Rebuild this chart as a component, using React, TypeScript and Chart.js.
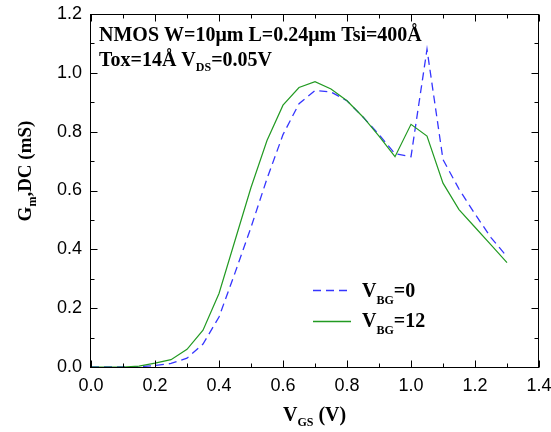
import React, { useEffect, useRef } from "react";
import { Chart, registerables } from "chart.js";

Chart.register(...registerables);

const vgs = [0, 0.05, 0.1, 0.15, 0.2, 0.25, 0.3, 0.35, 0.4, 0.45, 0.5, 0.55, 0.6, 0.65, 0.7, 0.75, 0.8, 0.85, 0.9, 0.95, 1.0, 1.05, 1.1, 1.15, 1.2, 1.25, 1.3];
const gmVbg0 = [0, 0, 0, 0.001, 0.005, 0.012, 0.03, 0.078, 0.17, 0.32, 0.475, 0.64, 0.79, 0.895, 0.94, 0.935, 0.905, 0.85, 0.79, 0.725, 0.715, 1.08, 0.705, 0.605, 0.52, 0.44, 0.375];
const gmVbg12 = [0, 0, 0, 0.003, 0.013, 0.025, 0.06, 0.125, 0.25, 0.43, 0.61, 0.77, 0.89, 0.95, 0.97, 0.945, 0.905, 0.85, 0.785, 0.715, 0.825, 0.785, 0.625, 0.535, 0.475, 0.415, 0.355];
const xTicks = [0, 0.2, 0.4, 0.6, 0.8, 1.0, 1.2, 1.4];
const yTicks = [0, 0.2, 0.4, 0.6, 0.8, 1.0, 1.2];

const BLUE = "#3535ff";
const GREEN = "#229a22";
const SERIF = '"Liberation Serif", "Times New Roman", serif';

type Seg = [string, boolean];

function segWidth(ctx: CanvasRenderingContext2D, segs: Seg[], size: number, subSize: number) {
  let w = 0;
  for (const [t, sub] of segs) {
    ctx.font = `bold ${sub ? subSize : size}px ${SERIF}`;
    w += ctx.measureText(t).width;
  }
  return w;
}

function drawSegs(ctx: CanvasRenderingContext2D, segs: Seg[], x: number, y: number, size: number, subSize: number, subDrop: number) {
  let cx = x;
  for (const [t, sub] of segs) {
    ctx.font = `bold ${sub ? subSize : size}px ${SERIF}`;
    ctx.fillText(t, cx, sub ? y + subDrop : y);
    cx += ctx.measureText(t).width;
  }
}

const overlay = {
  id: "overlay",
  afterDraw(chart: any) {
    const { ctx, chartArea } = chart;
    const { left, right, top, bottom } = chartArea;
    const xs = chart.scales.x;
    const ys = chart.scales.y;
    ctx.save();
    ctx.strokeStyle = "#000";
    ctx.lineWidth = 1;
    const L = Math.round(left) - 0.5;
    const R = Math.round(right) - 0.5;
    const T = Math.round(top) + 0.5;
    const B = Math.round(bottom) + 0.5;
    ctx.strokeRect(L, T, R - L, B - T);
    ctx.beginPath();
    for (let i = 0; i <= 14; i++) {
      const px = Math.round(xs.getPixelForValue(i / 10)) + 0.5;
      const len = i % 2 === 0 ? 7 : 4;
      ctx.moveTo(px, B);
      ctx.lineTo(px, B - len);
      ctx.moveTo(px, T);
      ctx.lineTo(px, T + len);
    }
    for (let i = 0; i <= 12; i++) {
      const py = Math.round(ys.getPixelForValue(i / 10)) + 0.5;
      const len = i % 2 === 0 ? 7 : 4;
      ctx.moveTo(L, py);
      ctx.lineTo(L + len, py);
      ctx.moveTo(R, py);
      ctx.lineTo(R - len, py);
    }
    ctx.stroke();

    ctx.fillStyle = "#000";
    ctx.textBaseline = "alphabetic";
    ctx.textAlign = "left";
    // annotation
    drawSegs(ctx, [["NMOS W=10\u03bcm L=0.24\u03bcm Tsi=400\u00c5", false]], 99, 41, 20, 12, 5);
    drawSegs(ctx, [["Tox=14\u00c5 V", false], ["DS", true], ["=0.05V", false]], 99, 66, 20, 12, 5);

    // legend
    ctx.lineWidth = 1.3;
    ctx.strokeStyle = BLUE;
    ctx.setLineDash([8, 5]);
    ctx.beginPath();
    ctx.moveTo(313, 290.5);
    ctx.lineTo(351, 290.5);
    ctx.stroke();
    ctx.setLineDash([]);
    ctx.strokeStyle = GREEN;
    ctx.beginPath();
    ctx.moveTo(313, 321.5);
    ctx.lineTo(351, 321.5);
    ctx.stroke();
    drawSegs(ctx, [["V", false], ["BG", true], ["=0", false]], 362, 297, 20, 12, 7);
    drawSegs(ctx, [["V", false], ["BG", true], ["=12", false]], 362, 327, 20, 12, 7);

    // x title
    drawSegs(ctx, [["V", false], ["GS", true], [" (V)", false]], 283, 421, 20, 12, 5);

    // y title
    const ySegs: Seg[] = [["G", false], ["m", true], [",DC (mS)", false]];
    const w = segWidth(ctx, ySegs, 19, 12);
    ctx.translate(31, 171);
    ctx.rotate(-Math.PI / 2);
    drawSegs(ctx, ySegs, -w / 2, 0, 19, 12, 5);
    ctx.restore();
  },
};

export default function App() {
  const ref = useRef<HTMLCanvasElement | null>(null);
  useEffect(() => {
    if (!ref.current) return;
    const chart = new Chart(ref.current, {
      type: "line",
      data: {
        datasets: [
          {
            label: "VBG=12",
            data: vgs.map((v, i) => ({ x: v, y: gmVbg12[i] })),
            borderColor: GREEN,
            borderWidth: 1.2,
            pointRadius: 0,
            tension: 0,
            fill: false,
          },
          {
            label: "VBG=0",
            data: vgs.map((v, i) => ({ x: v, y: gmVbg0[i] })),
            borderColor: BLUE,
            borderWidth: 1.3,
            borderDash: [8, 5],
            pointRadius: 0,
            tension: 0,
            fill: false,
          },
        ],
      },
      options: {
        animation: false,
        responsive: false,
        maintainAspectRatio: false,
        layout: { padding: { top: 14, right: 12, left: 0, bottom: 0 } },
        plugins: { legend: { display: false }, tooltip: { enabled: false } },
        scales: {
          x: {
            type: "linear",
            min: 0,
            max: 1.4,
            afterBuildTicks: (s: any) => {
              s.ticks = xTicks.map((v) => ({ value: v }));
            },
            afterFit: (s: any) => {
              s.height = 65;
              s.paddingLeft = 0;
              s.paddingRight = 0;
            },
            grid: { display: false, drawTicks: false },
            border: { display: false },
            ticks: {
              padding: 8,
              color: "#000",
              font: { family: '"Liberation Sans", Arial, sans-serif', size: 18 },
              callback: (v: any) => Number(v).toFixed(1),
              maxRotation: 0,
              autoSkip: false,
            },
          },
          y: {
            type: "linear",
            min: 0,
            max: 1.2,
            afterBuildTicks: (s: any) => {
              s.ticks = yTicks.map((v) => ({ value: v }));
            },
            afterFit: (s: any) => {
              s.width = 91;
              s.paddingTop = 0;
              s.paddingBottom = 0;
            },
            grid: { display: false, drawTicks: false },
            border: { display: false },
            ticks: {
              padding: 9,
              color: "#000",
              font: { family: '"Liberation Sans", Arial, sans-serif', size: 18 },
              callback: (v: any) => Number(v).toFixed(1),
              autoSkip: false,
            },
          },
        },
      },
      plugins: [overlay],
    });
    return () => chart.destroy();
  }, []);
  return (
    <div style={{ position: "fixed", left: 0, top: 0, width: 551, height: 432, background: "#fff" }}>
      <canvas ref={ref} width={551} height={432} style={{ width: 551, height: 432 }} />
    </div>
  );
}
